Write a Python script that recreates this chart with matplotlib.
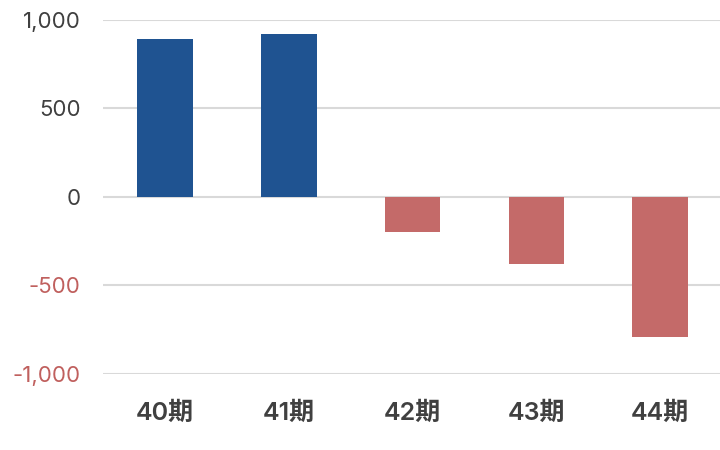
import matplotlib
matplotlib.use('Agg')
import matplotlib.pyplot as plt

plt.rcParams['font.family'] = ['Inter', 'Noto Sans CJK JP', 'DejaVu Sans']

# data
periods = ['40期', '41期', '42期', '43期', '44期']
values = [890, 920, -200, -380, -790]
yticks = [-1000, -500, 0, 500, 1000]

blue = '#1F5391'
red = '#C46A69'
colors = [blue if v >= 0 else red for v in values]

fig = plt.figure(figsize=(7.2, 4.5), dpi=100)
ax = fig.add_axes([0.143, 0.169, 0.86, 0.787])

ax.bar(range(len(periods)), values, width=0.45, color=colors, zorder=3)

ax.set_xlim(-0.5, len(periods) - 0.5)
ax.set_ylim(-1000, 1000)
ax.set_yticks(yticks)
ax.set_yticklabels([f'{v:,}' for v in yticks], fontsize=16)
for lab, v in zip(ax.get_yticklabels(), yticks):
    lab.set_color('#C0605E' if v < 0 else '#404040')

ax.set_xticks(range(len(periods)))
ax.set_xticklabels(periods, fontsize=18, color='#404040', fontweight='semibold')

ax.grid(axis='y', color='#D9D9D9', linewidth=1.5, zorder=0)
for s in ax.spines.values():
    s.set_visible(False)
ax.tick_params(axis='both', length=0)
ax.tick_params(axis='y', pad=16)
ax.tick_params(axis='x', pad=20)

fig.savefig('out.png', dpi=100)
